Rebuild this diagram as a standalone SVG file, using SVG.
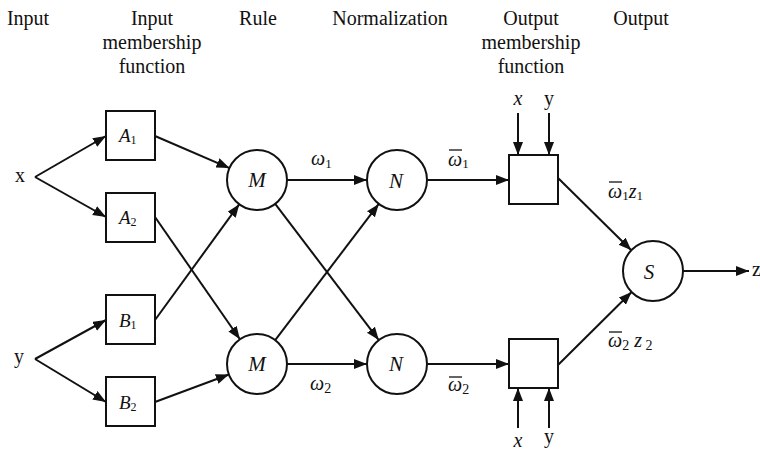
<svg xmlns="http://www.w3.org/2000/svg" width="760" height="451" viewBox="0 0 760 451">
<defs>
<marker id="ah" markerUnits="userSpaceOnUse" markerWidth="14" markerHeight="11" refX="13" refY="5" orient="auto">
<path d="M0,0 L13,5 L0,10 z" fill="#111"/>
</marker>
<style>
.t{font-family:"Liberation Serif","Times New Roman",serif;fill:#111}
.h{font-size:20px;text-anchor:middle}
.i{font-style:italic}
.n{fill:#fff;stroke:#111;stroke-width:2}
.c line{stroke:#111;stroke-width:2}
.c .a{marker-end:url(#ah)}
.bar{stroke:#111;stroke-width:1.3}
</style>
</defs>
<rect width="760" height="451" fill="#fff"/>
<g id="headers" class="t h">
<text x="28" y="25">Input</text>
<text x="152" y="25">Input</text>
<text x="152" y="49">membership</text>
<text x="152" y="73">function</text>
<text x="258" y="25">Rule</text>
<text x="390" y="25">Normalization</text>
<text x="531" y="25">Output</text>
<text x="531" y="49">membership</text>
<text x="531" y="73">function</text>
<text x="641" y="25">Output</text>
</g>
<g id="connectors" class="c">
<line class="a" x1="35" y1="177" x2="106" y2="136"/>
<line class="a" x1="35" y1="177" x2="106" y2="217"/>
<line class="a" x1="35" y1="359" x2="106" y2="320"/>
<line class="a" x1="35" y1="359" x2="106" y2="402"/>
<line class="a" x1="155" y1="136" x2="229.5" y2="168.1"/>
<line class="a" x1="155" y1="217" x2="239.9" y2="339.3"/>
<line class="a" x1="155" y1="320" x2="239.3" y2="204.2"/>
<line class="a" x1="155" y1="402" x2="228.9" y2="374.5"/>
<line class="a" x1="287" y1="180" x2="367" y2="180"/>
<line class="a" x1="275.2" y1="203.9" x2="378.8" y2="340.1"/>
<line class="a" x1="275.2" y1="340.1" x2="378.8" y2="203.9"/>
<line class="a" x1="287" y1="364" x2="367" y2="364"/>
<line class="a" x1="427" y1="180" x2="509" y2="180"/>
<line class="a" x1="427" y1="364" x2="509" y2="364"/>
<line class="a" x1="558" y1="178" x2="631.3" y2="250.3"/>
<line class="a" x1="558" y1="365" x2="631.6" y2="292"/>
<line class="a" x1="683" y1="271" x2="749" y2="271"/>
<line class="a" x1="518" y1="113" x2="518" y2="155"/>
<line class="a" x1="549" y1="113" x2="549" y2="155"/>
<line class="a" x1="518" y1="428" x2="518" y2="388"/>
<line class="a" x1="549" y1="428" x2="549" y2="388"/>
</g>
<g id="in-x" class="t"><text x="20" y="182" font-size="20" text-anchor="middle">x</text></g>
<g id="in-y" class="t"><text x="19" y="363" font-size="20" text-anchor="middle">y</text></g>
<g id="A1"><rect class="n" x="106" y="111" width="49" height="49"/><text class="t" x="119" y="142" font-size="19"><tspan class="i">A</tspan><tspan font-size="12" dy="2">1</tspan></text></g>
<g id="A2"><rect class="n" x="106" y="193" width="49" height="49"/><text class="t" x="119" y="224" font-size="19"><tspan class="i">A</tspan><tspan font-size="12" dy="2">2</tspan></text></g>
<g id="B1"><rect class="n" x="106" y="295" width="49" height="49"/><text class="t" x="119" y="327" font-size="19"><tspan class="i">B</tspan><tspan font-size="12" dy="2">1</tspan></text></g>
<g id="B2"><rect class="n" x="106" y="377" width="49" height="49"/><text class="t" x="119" y="409" font-size="19"><tspan class="i">B</tspan><tspan font-size="12" dy="2">2</tspan></text></g>
<g id="M1"><circle class="n" cx="257" cy="180" r="30"/><text class="t i" x="257" y="187" font-size="21" text-anchor="middle">M</text></g>
<g id="M2"><circle class="n" cx="257" cy="364" r="30"/><text class="t i" x="257" y="371" font-size="21" text-anchor="middle">M</text></g>
<g id="N1"><circle class="n" cx="397" cy="180" r="30"/><text class="t i" x="396" y="188" font-size="21" text-anchor="middle">N</text></g>
<g id="N2"><circle class="n" cx="397" cy="364" r="30"/><text class="t i" x="396" y="371" font-size="21" text-anchor="middle">N</text></g>
<g id="O1"><rect class="n" x="509" y="155" width="49" height="49"/></g>
<g id="O2"><rect class="n" x="509" y="339" width="49" height="49"/></g>
<g id="S"><circle class="n" cx="653" cy="271" r="30"/><text class="t i" x="649" y="279" font-size="21" text-anchor="middle">S</text></g>
<g id="labels" class="t">
<text x="311" y="165" font-size="20"><tspan class="i">ω</tspan><tspan font-size="13" dy="3">1</tspan></text>
<text x="310" y="390" font-size="20"><tspan class="i">ω</tspan><tspan font-size="14" dy="3">2</tspan></text>
<text x="448" y="166" font-size="20"><tspan class="i">ω</tspan><tspan font-size="13" dy="2">1</tspan></text>
<line class="bar" x1="449" y1="150" x2="462" y2="150"/>
<text x="448" y="391" font-size="20"><tspan class="i">ω</tspan><tspan font-size="14" dy="3">2</tspan></text>
<line class="bar" x1="449" y1="377" x2="462" y2="377"/>
<text x="608" y="198" font-size="20"><tspan class="i">ω</tspan><tspan font-size="13" dy="2">1</tspan><tspan class="i" dy="-2">z</tspan><tspan font-size="13" dy="2">1</tspan></text>
<line class="bar" x1="609" y1="182" x2="622" y2="182"/>
<text x="608" y="347" font-size="20"><tspan class="i">ω</tspan><tspan font-size="14" dy="3">2</tspan><tspan class="i" dy="-3"> z</tspan><tspan font-size="14" dy="3"> 2</tspan></text>
<line class="bar" x1="609" y1="332" x2="622" y2="332"/>
<text x="752" y="276" font-size="20">z</text>
<text class="i" x="518" y="105" font-size="20" text-anchor="middle">x</text>
<text x="549" y="105" font-size="20" text-anchor="middle">y</text>
<text class="i" x="518" y="447" font-size="20" text-anchor="middle">x</text>
<text x="549" y="443" font-size="20" text-anchor="middle">y</text>
</g>
</svg>
